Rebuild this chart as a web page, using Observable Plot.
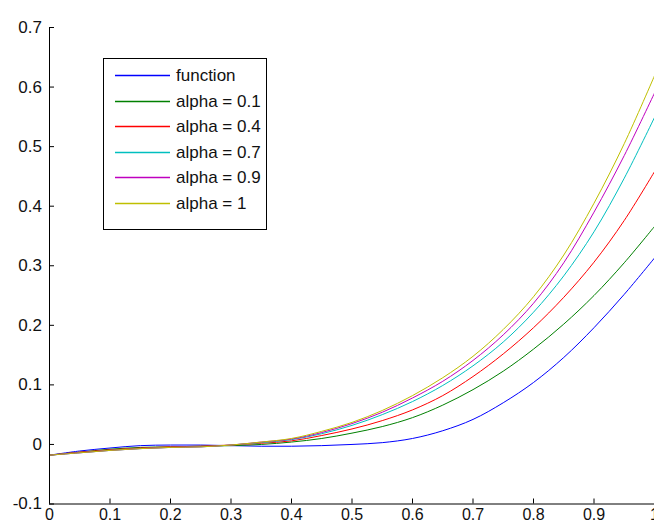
<!DOCTYPE html>
<html>
<head>
<meta charset="utf-8">
<script src="https://cdn.jsdelivr.net/npm/d3@7"></script>
<script src="https://cdn.jsdelivr.net/npm/@observablehq/plot@0.6"></script>
<style>
  html, body { margin: 0; padding: 0; background: #fff; }
  #chart { position: relative; width: 654px; height: 525px; overflow: hidden;
           font-family: "Liberation Sans", Arial, sans-serif; }
  #legend { position: absolute; left: 103px; top: 58px; }
</style>
</head>
<body>
<div id="chart"></div>
<script>
// sample positions along x
const xs = [0, 0.05, 0.1, 0.15, 0.2, 0.25, 0.3, 0.35, 0.4, 0.45, 0.5,
            0.55, 0.6, 0.65, 0.7, 0.75, 0.8, 0.85, 0.9, 0.95, 1];

// the original function and its approximations for several alpha values
const fnValues = [-0.018, -0.011, -0.006, -0.002, -0.001, -0.001, -0.002, -0.003, -0.003, -0.002, 0.0,
                  0.003, 0.010, 0.023, 0.042, 0.070, 0.104, 0.146, 0.196, 0.252, 0.313];
const alpha01 = [-0.018, -0.013, -0.008, -0.005, -0.004, -0.003, -0.002, 0.0, 0.004, 0.010, 0.019,
                 0.030, 0.045, 0.066, 0.092, 0.123, 0.160, 0.202, 0.250, 0.305, 0.366];
const alpha04 = [-0.018, -0.013, -0.009, -0.006, -0.004, -0.003, -0.001, 0.002, 0.006, 0.015, 0.026,
                 0.040, 0.058, 0.082, 0.114, 0.152, 0.196, 0.247, 0.306, 0.376, 0.458];
const alpha07 = [-0.018, -0.014, -0.010, -0.007, -0.005, -0.004, -0.001, 0.003, 0.008, 0.018, 0.032,
                 0.050, 0.072, 0.099, 0.132, 0.172, 0.222, 0.283, 0.357, 0.447, 0.549];
const alpha09 = [-0.018, -0.014, -0.010, -0.007, -0.005, -0.004, -0.001, 0.004, 0.009, 0.020, 0.035,
                 0.054, 0.078, 0.106, 0.141, 0.184, 0.237, 0.305, 0.390, 0.485, 0.590];
const alpha1  = [-0.018, -0.014, -0.010, -0.007, -0.005, -0.004, -0.001, 0.004, 0.010, 0.022, 0.037,
                 0.057, 0.082, 0.112, 0.148, 0.193, 0.248, 0.318, 0.405, 0.505, 0.619];

const seriesNames  = ["function", "alpha = 0.1", "alpha = 0.4", "alpha = 0.7", "alpha = 0.9", "alpha = 1"];
const seriesValues = [fnValues, alpha01, alpha04, alpha07, alpha09, alpha1];
const seriesColors = ["#0000ff", "#008000", "#ff0000", "#00bfbf", "#bf00bf", "#bfbf00"];

const xTicks = [0, 0.1, 0.2, 0.3, 0.4, 0.5, 0.6, 0.7, 0.8, 0.9, 1];
const xTickLabels = ["0", "0.1", "0.2", "0.3", "0.4", "0.5", "0.6", "0.7", "0.8", "0.9", "1"];
const yTicks = [-0.1, 0, 0.1, 0.2, 0.3, 0.4, 0.5, 0.6, 0.7];
const yTickLabels = ["-0.1", "0", "0.1", "0.2", "0.3", "0.4", "0.5", "0.6", "0.7"];

// long-format table for the line mark
const rows = [];
seriesValues.forEach((vals, s) => {
  vals.forEach((v, i) => rows.push({series: seriesNames[s], x: xs[i], y: v}));
});

const width = 654, height = 525;
const marginLeft = 49, marginRight = 0, marginTop = 27, marginBottom = 21.5;
const plotW = width - marginLeft - marginRight;
const plotH = height - marginTop - marginBottom;
const tickLen = 5;
const fontStack = '"Liberation Sans", Arial, sans-serif';

const chart = Plot.plot({
  width, height, marginLeft, marginRight, marginTop, marginBottom,
  style: {fontFamily: fontStack, fontSize: "17px", color: "#111", background: "#fff"},
  x: {domain: [0, 1], label: null},
  y: {domain: [-0.1, 0.7], label: null},
  color: {domain: seriesNames, range: seriesColors},
  marks: [
    Plot.axisX(xTicks, {tickSize: 0, tickPadding: 4.5, fontSize: 16,
      tickFormat: d => xTickLabels[xTicks.indexOf(d)]}),
    Plot.axisY(yTicks, {tickSize: 0, tickPadding: 7.5,
      tickFormat: d => yTickLabels[yTicks.findIndex(t => Math.abs(t - d) < 1e-9)]}),
    Plot.line(rows, {x: "x", y: "y", z: "series", stroke: "series", strokeWidth: 1, curve: "catmull-rom"}),
    // axis lines
    Plot.ruleX([0], {stroke: "#000", strokeWidth: 1}),
    Plot.ruleY([-0.1], {stroke: "#000", strokeWidth: 1}),
    // inward tick marks
    Plot.tickY(yTicks, {y: d => d, stroke: "#000", insetRight: plotW - tickLen}),
    Plot.tickX(xTicks, {x: d => d, stroke: "#000", insetTop: plotH - tickLen})
  ]
});

const root = document.getElementById("chart");
root.appendChild(chart);

// legend box: swatch line + label per series
const legW = 164, legH = 172, rowStep = 25.5, firstRow = 17;
const legend = d3.create("svg")
  .attr("id", "legend")
  .attr("width", legW + 1)
  .attr("height", legH + 1)
  .style("font-family", fontStack)
  .style("font-size", "17px");
legend.append("rect")
  .attr("x", 0.5).attr("y", 0.5)
  .attr("width", legW - 1).attr("height", legH - 1)
  .attr("fill", "#fff").attr("stroke", "#000");
const item = legend.selectAll("g")
  .data(seriesNames)
  .join("g")
  .attr("transform", (d, i) => `translate(0,${Math.round(firstRow + i * rowStep) + 0.5})`);
item.append("line")
  .attr("x1", 12).attr("x2", 67)
  .attr("stroke", (d, i) => seriesColors[i])
  .attr("stroke-width", 1.6);
item.append("text")
  .attr("x", 73)
  .attr("dy", "0.35em")
  .attr("fill", "#111")
  .text(d => d);
root.appendChild(legend.node());
</script>
</body>
</html>
